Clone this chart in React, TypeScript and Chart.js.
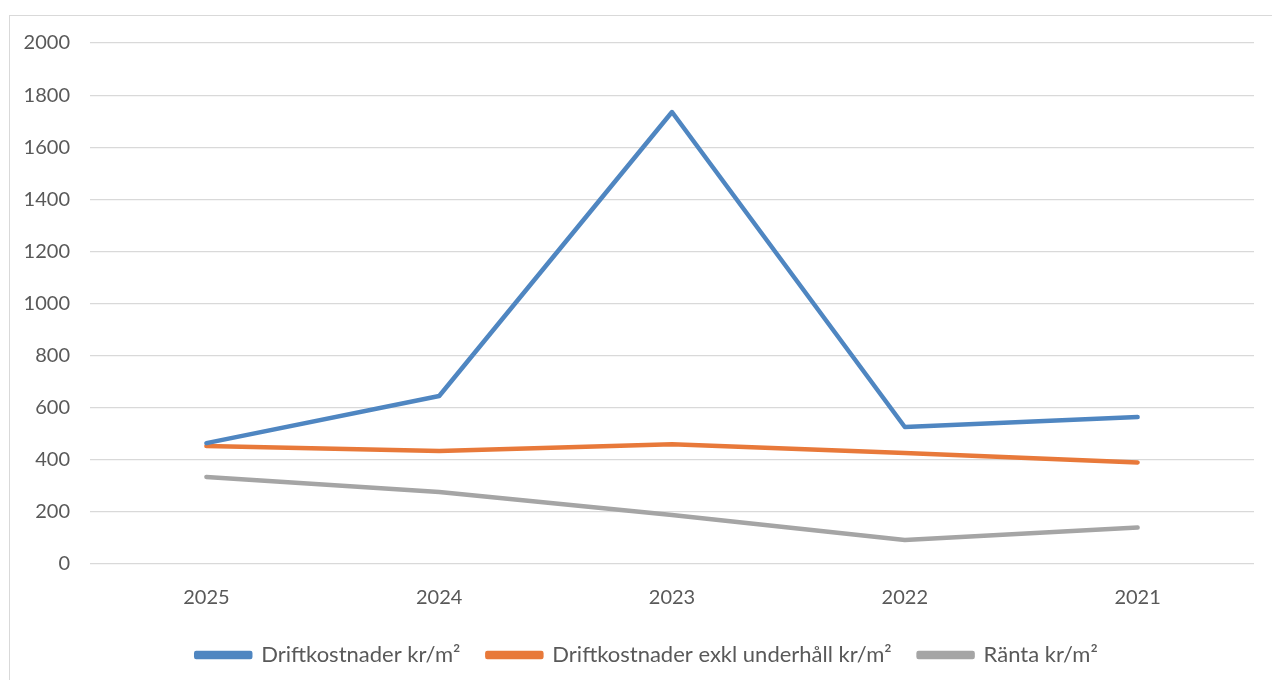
import React, { useEffect, useRef } from "react";
import { Chart, registerables } from "chart.js";

Chart.register(...registerables);

const categories = ["2025", "2024", "2023", "2022", "2021"];
const driftkostnader = [464, 645, 1735, 526, 564];
const driftExklUnderhall = [453, 434, 460, 426, 390];
const ranta = [334, 276, 188, 92, 140];
const yTicks = { min: 0, max: 2000, step: 200 };

const shiftLegend = {
  id: "shiftLegend",
  afterLayout(chart: any) {
    if (chart.legend) {
      chart.legend.left += 15;
      chart.legend.right += 15;
    }
  },
};

export default function App() {
  const ref = useRef<HTMLCanvasElement | null>(null);
  useEffect(() => {
    const mk = (label: string, data: number[], color: string) => ({
      label,
      data,
      borderColor: color,
      backgroundColor: color,
      borderWidth: 4.5,
      pointRadius: 0,
      tension: 0,
      borderCapStyle: "round" as const,
      borderJoinStyle: "round" as const,
    });
    const chart = new Chart(ref.current as HTMLCanvasElement, {
      type: "line",
      data: {
        labels: categories,
        datasets: [
          mk("Driftkostnader kr/m²", driftkostnader, "#4f86c1"),
          mk("Driftkostnader exkl underhåll kr/m²", driftExklUnderhall, "#e8793a"),
          mk("Ränta kr/m²", ranta, "#a5a5a5"),
        ],
      },
      options: {
        animation: false,
        responsive: false,
        layout: { padding: { top: 27, right: 18, left: 0, bottom: 4 } },
        plugins: {
          tooltip: { enabled: false },
          legend: {
            position: "bottom",
            labels: {
              boxWidth: 54,
              boxHeight: 4,
              padding: 27,
              color: "#595959",
              font: { family: "Lato", size: 22 },
            },
          },
        },
        scales: {
          x: {
            offset: true,
            grid: { display: false },
            border: { display: false },
            ticks: { color: "#595959", font: { family: "Lato", size: 20 }, padding: 14 },
            afterFit: (s: any) => {
              s.height = s.height - 7;
            },
          },
          y: {
            min: yTicks.min,
            max: yTicks.max,
            border: { display: false },
            grid: { color: "#d9d9d9", lineWidth: 1.2, drawTicks: false },
            ticks: {
              stepSize: yTicks.step,
              color: "#595959",
              font: { family: "Lato", size: 20 },
              padding: 20,
              callback: (v: any) => String(v),
            },
            afterFit: (s: any) => {
              s.width = 80;
              s.paddingTop = 0;
            },
          },
        },
      },
      plugins: [shiftLegend],
    });
    return () => chart.destroy();
  }, []);
  return (
    <div
      style={{
        position: "absolute",
        left: 9,
        top: 15,
        width: 1270,
        height: 670,
        border: "1px solid #d9d9d9",
        background: "#fff",
      }}
    >
      <canvas ref={ref} width={1262} height={664} style={{ display: "block" }} />
    </div>
  );
}
